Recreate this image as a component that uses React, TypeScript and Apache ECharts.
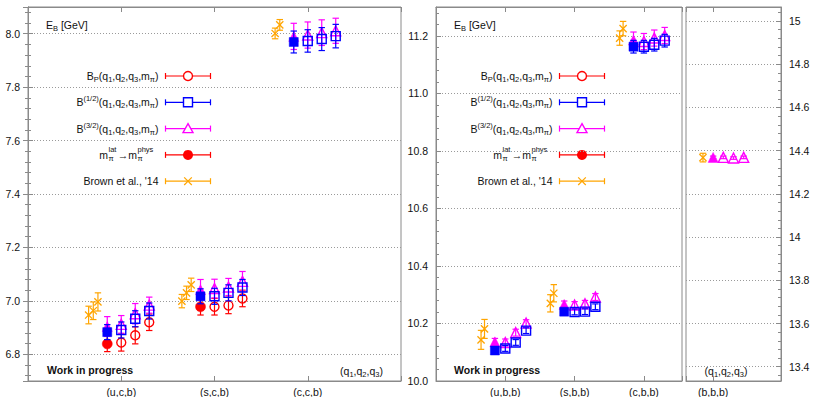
import React, { useEffect, useRef } from 'react';
import * as echarts from 'echarts';

// ---------- data ----------
const leftCategories = ['(u,c,b)', '(s,c,b)', '(c,c,b)'];
const rightCategories = ['(u,b,b)', '(s,b,b)', '(c,b,b)'];
const bbbCategory = '(b,b,b)';

// x offsets of the variants inside a category group
const physOffset = -0.15;
const openOffsets = [0, 0.15, 0.3];
const brownOffsets = [-0.35, -0.3, -0.25];
const bbbBrownOffset = -0.15;
const bbbPhysOffset = 0;
const bbbOpenOffsets = [0.15, 0.3, 0.45];

// left panel (q1,c,b)
const leftPhysRed = [6.839, 6.978, null];
const leftPhysRedErr = [0.029, 0.031, 0];
const leftPhysBlue = [6.883, 7.017, 7.969];
const leftPhysBlueErr = [0.028, 0.028, 0.041];
const leftPhysMagenta = [6.904, 7.042, 7.99];
const leftPhysMagentaErr = [0.037, 0.038, 0.049];
const leftBP = [[6.844, 6.871, 6.92], [6.978, 6.983, 7.009], []];
const leftBPErr = [[0.032, 0.032, 0.031], [0.031, 0.031, 0.031], []];
const leftBHalf = [[6.891, 6.933, 6.962], [7.017, 7.03, 7.05], [7.973, 7.98, 7.991]];
const leftBHalfErr = [[0.03, 0.03, 0.03], [0.03, 0.03, 0.03], [0.042, 0.043, 0.044]];
const leftBThreeHalf = [[6.912, 6.952, 6.984], [7.046, 7.052, 7.073], [7.995, 8.004, 8.011]];
const leftBThreeHalfErr = [[0.033, 0.038, 0.03], [0.035, 0.032, 0.037], [0.049, 0.048, 0.047]];
const leftBrown = [[6.947, 6.963, 6.996], [6.999, 7.03, 7.06], [8.001, 8.033]];
const leftBrownErr = [[0.033, 0.033, 0.034], [0.025, 0.025, 0.025], [0.02, 0.02]];

// right panel (q1,b,b)
const rightPhysBlue = [10.106, 10.241, 11.162];
const rightPhysBlueErr = [0.01, 0.01, 0.022];
const rightPhysMagenta = [10.136, 10.266, 11.185];
const rightPhysMagentaErr = [0.012, 0.012, 0.028];
const rightBHalf = [[10.113, 10.134, 10.175], [10.24, 10.241, 10.258], [11.162, 11.169, 11.183]];
const rightBHalfErr = [[0.01, 0.01, 0.01], [0.01, 0.01, 0.01], [0.022, 0.022, 0.022]];
const rightBThreeHalf = [[10.134, 10.168, 10.201], [10.264, 10.268, 10.292], [11.18, 11.192, 11.201]];
const rightBThreeHalfErr = [[0.012, 0.012, 0.012], [0.012, 0.012, 0.012], [0.028, 0.028, 0.028]];
const rightBrown = [[10.143, 10.181], [10.27, 10.305], [11.192, 11.225]];
const rightBrownErr = [[0.033, 0.033], [0.03, 0.03], [0.025, 0.025]];

// (b,b,b) panel
const bbbPhysMagenta = 14.369;
const bbbPhysMagentaErr = 0.006;
const bbbBThreeHalf = [14.369, 14.366, 14.369];
const bbbBThreeHalfErr = [0.006, 0.006, 0.006];
const bbbBrown = 14.368;
const bbbBrownErr = 0.02;

// tick labels
const leftYLabelDigits = 1;
const rightYLabelDigits = 1;

// ---------- styling ----------
const RED = '#ff0000';
const BLUE = '#0000ff';
const MAGENTA = '#ff00ff';
const ORANGE = '#ffa500';
const FRAME = '#8a8a8a';
const FONT = "'Liberation Sans', Arial, Helvetica, sans-serif";
const FS = 10.5;
const TEXT = '#111';

type Pt = [number, number, number];

function groupPts(vals: number[][], errs: number[][], offsets: number[]): Pt[] {
  const out: Pt[] = [];
  vals.forEach((arr, ci) =>
    arr.forEach((v, j) => {
      out.push([ci + 1 + offsets[j], v, errs[ci][j]]);
    })
  );
  return out;
}
function physPts(vals: (number | null)[], errs: number[], offset: number): Pt[] {
  const out: Pt[] = [];
  vals.forEach((v, ci) => {
    if (v != null) out.push([ci + 1 + offset, v, errs[ci]]);
  });
  return out;
}

function errSeries(data: Pt[], color: string, xi: number, yi: number, z: number) {
  const cap = 3.2;
  return {
    type: 'custom',
    xAxisIndex: xi,
    yAxisIndex: yi,
    z,
    silent: true,
    clip: false,
    data,
    encode: { x: 0, y: 1 },
    renderItem: (_p: any, api: any) => {
      const x = api.value(0);
      const y = api.value(1);
      const e = api.value(2);
      const t = api.coord([x, y + e]);
      const b = api.coord([x, y - e]);
      const st = { stroke: color, lineWidth: 1.2 };
      return {
        type: 'group',
        children: [
          { type: 'line', shape: { x1: t[0], y1: t[1], x2: b[0], y2: b[1] }, style: st },
          { type: 'line', shape: { x1: t[0] - cap, y1: t[1], x2: t[0] + cap, y2: t[1] }, style: st },
          { type: 'line', shape: { x1: b[0] - cap, y1: b[1], x2: b[0] + cap, y2: b[1] }, style: st },
        ],
      };
    },
  };
}

function crossSeries(data: Pt[], color: string, xi: number, yi: number, z: number) {
  const h = 3.6;
  return {
    type: 'custom',
    xAxisIndex: xi,
    yAxisIndex: yi,
    z,
    silent: true,
    clip: false,
    data,
    encode: { x: 0, y: 1 },
    renderItem: (_p: any, api: any) => {
      const c = api.coord([api.value(0), api.value(1)]);
      const st = { stroke: color, lineWidth: 1.3 };
      return {
        type: 'group',
        children: [
          { type: 'line', shape: { x1: c[0] - h, y1: c[1] - h, x2: c[0] + h, y2: c[1] + h }, style: st },
          { type: 'line', shape: { x1: c[0] - h, y1: c[1] + h, x2: c[0] + h, y2: c[1] - h }, style: st },
        ],
      };
    },
  };
}

function markSeries(data: Pt[], symbol: string, size: number, color: string, filled: boolean, xi: number, yi: number, z: number) {
  return {
    type: 'scatter',
    xAxisIndex: xi,
    yAxisIndex: yi,
    z,
    silent: true,
    clip: false,
    symbol,
    symbolSize: size,
    emphasis: { disabled: true },
    data: data.map((d) => [d[0], d[1]]),
    itemStyle: filled
      ? { color, borderColor: color, borderWidth: 0.5, opacity: 1 }
      : { color: 'rgba(0,0,0,0)', borderColor: color, borderWidth: 1.4, opacity: 1 },
  };
}

const rich = {
  sub: { fontSize: 7.5, lineHeight: 9, verticalAlign: 'bottom', fontFamily: FONT, fill: TEXT },
  sup: { fontSize: 7.5, lineHeight: 9, verticalAlign: 'top', fontFamily: FONT, fill: TEXT },
};

function richText(x: number, y: number, text: string, align: string, extra: any = {}) {
  return {
    type: 'text',
    x,
    y,
    silent: true,
    style: {
      text,
      rich,
      fontFamily: FONT,
      fontSize: FS,
      lineHeight: 15,
      fill: TEXT,
      align,
      verticalAlign: 'middle',
      ...extra,
    },
  };
}

function smallText(x: number, y: number, text: string, align: string) {
  return {
    type: 'text',
    x,
    y,
    silent: true,
    style: { text, fontFamily: FONT, fontSize: 7.5, fill: TEXT, align, verticalAlign: 'middle' },
  };
}

const legendRows = [
  { label: 'B{sub|P}(q{sub|1},q{sub|2},q{sub|3},m{sub|π})', color: RED, mark: 'openCircle' },
  { label: 'B{sup|(1/2)}(q{sub|1},q{sub|2},q{sub|3},m{sub|π})', color: BLUE, mark: 'openSquare' },
  { label: 'B{sup|(3/2)}(q{sub|1},q{sub|2},q{sub|3},m{sub|π})', color: MAGENTA, mark: 'openTriangle' },
  { label: 'phys', color: RED, mark: 'filledCircle' },
  { label: "Brown et al., '14", color: ORANGE, mark: 'cross' },
];

function legendGraphics(ax: number, y0: number, dy: number) {
  const els: any[] = [];
  legendRows.forEach((row, i) => {
    const y = y0 + i * dy;
    if (row.label === 'phys') {
      els.push(richText(ax - 50.5, y, 'm', 'right'));
      els.push(smallText(ax - 50, y - 5, 'lat', 'left'));
      els.push(smallText(ax - 50, y + 3.5, 'π', 'left'));
      els.push(richText(ax - 35.5, y, '→', 'center'));
      els.push(richText(ax - 21.5, y, 'm', 'right'));
      els.push(smallText(ax - 21, y - 5, 'phys', 'left'));
      els.push(smallText(ax - 21, y + 3.5, 'π', 'left'));
    } else {
      els.push(richText(ax, y, row.label, 'right'));
    }
    const x1 = ax + 7;
    const x2 = ax + 52;
    const cx = ax + 29.5;
    const st = { stroke: row.color, lineWidth: 1.2 };
    els.push({ type: 'line', silent: true, shape: { x1, y1: y, x2, y2: y }, style: st });
    els.push({ type: 'line', silent: true, shape: { x1, y1: y - 3, x2: x1, y2: y + 3 }, style: st });
    els.push({ type: 'line', silent: true, shape: { x1: x2, y1: y - 3, x2, y2: y + 3 }, style: st });
    const ms = { stroke: row.color, lineWidth: 1.4, fill: '#fff' };
    if (row.mark === 'openCircle') {
      els.push({ type: 'circle', silent: true, shape: { cx, cy: y, r: 4.5 }, style: ms });
    } else if (row.mark === 'openSquare') {
      els.push({ type: 'rect', silent: true, shape: { x: cx - 4.5, y: y - 4.5, width: 9, height: 9 }, style: ms });
    } else if (row.mark === 'openTriangle') {
      els.push({
        type: 'polygon',
        silent: true,
        shape: { points: [[cx, y - 5], [cx + 5, y + 4], [cx - 5, y + 4]] },
        style: ms,
      });
    } else if (row.mark === 'filledCircle') {
      els.push({ type: 'circle', silent: true, shape: { cx, cy: y, r: 5 }, style: { fill: row.color } });
    } else {
      const h = 3.8;
      els.push({ type: 'line', silent: true, shape: { x1: cx - h, y1: y - h, x2: cx + h, y2: y + h }, style: st });
      els.push({ type: 'line', silent: true, shape: { x1: cx - h, y1: y + h, x2: cx + h, y2: y - h }, style: st });
    }
  });
  return els;
}

const axisLineStyle = { show: true, lineStyle: { color: FRAME, width: 1 } };
const splitLineStyle = { show: true, lineStyle: { color: '#9a9a9a', type: [1, 2], width: 1 } };
const labelStyle = { color: TEXT, fontFamily: FONT, fontSize: FS };

function xAxisCfg(gridIndex: number, min: number, max: number, labels: (v: number) => string, top: boolean, extra: any = {}) {
  return {
    type: 'value',
    gridIndex,
    position: top ? 'top' : 'bottom',
    min,
    max,
    axisLine: axisLineStyle,
    axisTick: { show: true, inside: true, length: 5, lineStyle: { color: FRAME } },
    axisLabel: top
      ? { show: false }
      : { ...labelStyle, margin: 5, formatter: labels, showMinLabel: true, showMaxLabel: true },
    splitLine: { show: false },
    ...extra,
  };
}

function yAxisCfg(gridIndex: number, min: number, max: number, pos: string, showLabel: boolean, fmt: any, extra: any = {}) {
  return {
    type: 'value',
    gridIndex,
    position: pos,
    min,
    max,
    axisLine: axisLineStyle,
    axisTick: { show: true, inside: true, length: 5, lineStyle: { color: FRAME } },
    minorTick: { show: true, splitNumber: 5, length: 3, lineStyle: { color: FRAME } },
    axisLabel: showLabel
      ? { ...labelStyle, margin: 8, formatter: fmt, showMinLabel: false, showMaxLabel: false }
      : { show: false },
    splitLine: showLabel ? splitLineStyle : { show: false },
    ...extra,
  };
}

export default function App() {
  const ref = useRef<HTMLDivElement>(null);
  useEffect(() => {
    if (!ref.current) return;
    const chart = echarts.init(ref.current, undefined, { renderer: 'svg' });

    const leftLabel = (v: number) => leftCategories[Math.round(v) - 1] ?? '';
    const rightLabel = (v: number) => rightCategories[Math.round(v) - 1] ?? '';
    const bbbLabel = (v: number) => (Math.abs(v - 4) < 1e-6 ? bbbCategory : '');

    const series: any[] = [];
    // left panel: xAxis 0, yAxis 0
    const L = (fn: any) => fn;
    const lPhysRed = physPts(leftPhysRed, leftPhysRedErr, physOffset);
    const lPhysBlue = physPts(leftPhysBlue, leftPhysBlueErr, physOffset);
    const lPhysMag = physPts(leftPhysMagenta, leftPhysMagentaErr, physOffset);
    const lBP = groupPts(leftBP, leftBPErr, openOffsets);
    const lBH = groupPts(leftBHalf, leftBHalfErr, openOffsets);
    const lB3 = groupPts(leftBThreeHalf, leftBThreeHalfErr, openOffsets);
    const lBr = groupPts(leftBrown, leftBrownErr, brownOffsets);
    L(0);
    series.push(
      errSeries(lBr, ORANGE, 0, 0, 2),
      crossSeries(lBr, ORANGE, 0, 0, 3),
      errSeries(lBP, RED, 0, 0, 2),
      errSeries(lPhysRed, RED, 0, 0, 2),
      markSeries(lBP, 'circle', 9, RED, false, 0, 0, 3),
      markSeries(lPhysRed, 'circle', 10, RED, true, 0, 0, 3),
      errSeries(lB3, MAGENTA, 0, 0, 4),
      errSeries(lPhysMag, MAGENTA, 0, 0, 4),
      markSeries(lB3, 'triangle', 10, MAGENTA, false, 0, 0, 5),
      markSeries(lPhysMag, 'triangle', 10, MAGENTA, true, 0, 0, 5),
      errSeries(lBH, BLUE, 0, 0, 6),
      errSeries(lPhysBlue, BLUE, 0, 0, 6),
      markSeries(lBH, 'rect', 9, BLUE, false, 0, 0, 7),
      markSeries(lPhysBlue, 'rect', 9, BLUE, true, 0, 0, 7)
    );

    // right main panel: xAxis 2, yAxis 2
    const rPhysBlue = physPts(rightPhysBlue, rightPhysBlueErr, physOffset);
    const rPhysMag = physPts(rightPhysMagenta, rightPhysMagentaErr, physOffset);
    const rBH = groupPts(rightBHalf, rightBHalfErr, openOffsets);
    const rB3 = groupPts(rightBThreeHalf, rightBThreeHalfErr, openOffsets);
    const rBr = groupPts(rightBrown, rightBrownErr, brownOffsets);
    series.push(
      errSeries(rBr, ORANGE, 2, 2, 2),
      crossSeries(rBr, ORANGE, 2, 2, 3),
      errSeries(rB3, MAGENTA, 2, 2, 4),
      errSeries(rPhysMag, MAGENTA, 2, 2, 4),
      markSeries(rB3, 'triangle', 10, MAGENTA, false, 2, 2, 5),
      markSeries(rPhysMag, 'triangle', 10, MAGENTA, true, 2, 2, 5),
      errSeries(rBH, BLUE, 2, 2, 6),
      errSeries(rPhysBlue, BLUE, 2, 2, 6),
      markSeries(rBH, 'rect', 9, BLUE, false, 2, 2, 7),
      markSeries(rPhysBlue, 'rect', 9, BLUE, true, 2, 2, 7)
    );

    // (b,b,b) panel: xAxis 4, yAxis 3
    const bBr: Pt[] = [[4 + bbbBrownOffset, bbbBrown, bbbBrownErr]];
    const bPhys: Pt[] = [[4 + bbbPhysOffset, bbbPhysMagenta, bbbPhysMagentaErr]];
    const bB3: Pt[] = bbbBThreeHalf.map((v, j) => [4 + bbbOpenOffsets[j], v, bbbBThreeHalfErr[j]] as Pt);
    series.push(
      errSeries(bBr, ORANGE, 4, 3, 2),
      crossSeries(bBr, ORANGE, 4, 3, 3),
      errSeries(bB3, MAGENTA, 4, 3, 4),
      errSeries(bPhys, MAGENTA, 4, 3, 4),
      markSeries(bB3, 'triangle', 10, MAGENTA, false, 4, 3, 5),
      markSeries(bPhys, 'triangle', 10, MAGENTA, true, 4, 3, 5)
    );

    const option: any = {
      animation: false,
      backgroundColor: '#ffffff',
      textStyle: { fontFamily: FONT },
      grid: [
        { left: 28, top: 7, width: 373, height: 376, show: true, borderColor: FRAME, borderWidth: 1, backgroundColor: 'transparent' },
        { left: 436, top: 7, width: 246, height: 376, show: true, borderColor: FRAME, borderWidth: 1, backgroundColor: 'transparent' },
        { left: 686, top: 7, width: 95, height: 376, show: true, borderColor: FRAME, borderWidth: 1, backgroundColor: 'transparent' },
      ],
      xAxis: [
        xAxisCfg(0, 0, 4, leftLabel, false, { interval: 1 }),
        xAxisCfg(0, 0, 4, leftLabel, true, { interval: 1 }),
        xAxisCfg(1, 0, 3.55, rightLabel, false, { interval: 1 }),
        xAxisCfg(1, 0, 3.55, rightLabel, true, { interval: 1 }),
        xAxisCfg(2, 3.6, 5, bbbLabel, false, { splitNumber: 1 }),
        xAxisCfg(2, 3.6, 5, bbbLabel, true, { splitNumber: 1 }),
      ],
      yAxis: [
        yAxisCfg(0, 6.7, 8.1, 'left', true, (v: number) => v.toFixed(leftYLabelDigits), { splitNumber: 7 }),
        yAxisCfg(0, 6.7, 8.1, 'right', false, null, { splitNumber: 7 }),
        yAxisCfg(1, 10.0, 11.3, 'left', true, (v: number) => v.toFixed(rightYLabelDigits), {
          interval: 0.2,
          axisLabel: { ...labelStyle, margin: 8, formatter: (v: number) => v.toFixed(rightYLabelDigits), showMinLabel: true, showMaxLabel: false },
        }),
        yAxisCfg(2, 13.334, 15.065, 'right', true, (v: number) => String(Math.round(v * 10) / 10), { splitNumber: 8 }),
      ],
      series,
      graphic: [
        richText(46, 25, 'E{sub|B} [GeV]', 'left'),
        richText(454, 25, 'E{sub|B} [GeV]', 'left'),
        richText(47, 370, 'Work in progress', 'left', { fontWeight: 'bold' }),
        richText(454, 370, 'Work in progress', 'left', { fontWeight: 'bold' }),
        richText(361.5, 371, '(q{sub|1},q{sub|2},q{sub|3})', 'center'),
        richText(726, 371, '(q{sub|1},q{sub|2},q{sub|3})', 'center'),
        ...legendGraphics(158.5, 76, 26.3),
        ...legendGraphics(552.5, 76, 26.3),
      ],
    };
    chart.setOption(option);
    return () => chart.dispose();
  }, []);
  return (
    <div
      ref={ref}
      style={{ position: 'fixed', left: 0, top: 0, width: 813, height: 397, background: '#fff' }}
    />
  );
}
